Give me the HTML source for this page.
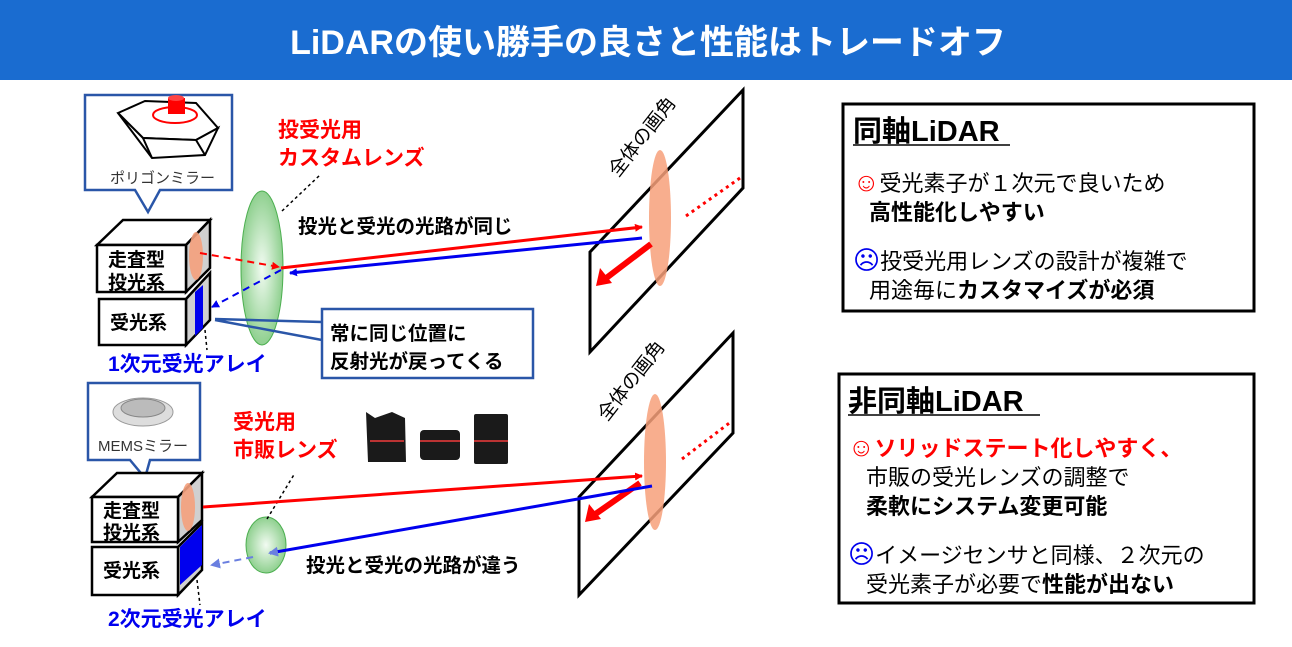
<!DOCTYPE html>
<html><head><meta charset="utf-8"><style>
body{margin:0;width:1292px;height:642px;overflow:hidden;background:#fff;font-family:"Liberation Sans","Noto Sans CJK JP",sans-serif}
</style></head><body>
<svg width="1292" height="642" xmlns="http://www.w3.org/2000/svg" font-family="Liberation Sans, Noto Sans CJK JP, sans-serif">
<defs>
<radialGradient id="g" cx="50%" cy="50%" r="50%"><stop offset="0" stop-color="#f2fbf2"/><stop offset="1" stop-color="#8fd08f"/></radialGradient>
<marker id="ar" markerWidth="8" markerHeight="8" refX="7" refY="4" orient="auto" markerUnits="userSpaceOnUse"><path d="M0,0 L8,4 L0,8z" fill="red"/></marker>
<marker id="ab" markerWidth="8" markerHeight="8" refX="7" refY="4" orient="auto" markerUnits="userSpaceOnUse"><path d="M0,0 L8,4 L0,8z" fill="#0000ee"/></marker>
<marker id="abl" markerWidth="10" markerHeight="10" refX="8" refY="5" orient="auto" markerUnits="userSpaceOnUse"><path d="M0,0 L10,5 L0,10z" fill="#6a7fe0"/></marker>
</defs>
<rect x="0" y="0" width="1292" height="80" fill="#1a6cd0"/>
<text x="648" y="54" text-anchor="middle" fill="#fff" font-size="34" font-weight="bold">LiDARの使い勝手の良さと性能はトレードオフ</text>

<!-- Right boxes -->
<rect x="843" y="104" width="411" height="207" fill="#fff" stroke="#000" stroke-width="3"/>
<text x="853" y="141" font-size="29" font-weight="bold">同軸LiDAR</text>
<line x1="853" y1="145" x2="1010" y2="145" stroke="#000" stroke-width="1.5"/>
<text x="853" y="191" font-size="22"><tspan fill="red" font-size="26">☺</tspan>受光素子が１次元で良いため</text>
<text x="869" y="220" font-size="22" font-weight="bold">高性能化しやすい</text>
<text x="853" y="269" font-size="22"><tspan fill="#0000ee" font-size="26">☹</tspan>投受光用レンズの設計が複雑で</text>
<text x="869" y="298" font-size="22">用途毎に<tspan font-weight="bold">カスタマイズが必須</tspan></text>

<rect x="839" y="374" width="415" height="229" fill="#fff" stroke="#000" stroke-width="3"/>
<text x="848" y="411" font-size="29" font-weight="bold">非同軸LiDAR</text>
<line x1="848" y1="415" x2="1040" y2="415" stroke="#000" stroke-width="1.5"/>
<text x="848" y="456" font-size="22" fill="red" font-weight="bold"><tspan font-weight="normal" font-size="26">☺</tspan>ソリッドステート化しやすく、</text>
<text x="866" y="485" font-size="22">市販の受光レンズの調整で</text>
<text x="866" y="514" font-size="22" font-weight="bold">柔軟にシステム変更可能</text>
<text x="848" y="563" font-size="22"><tspan fill="#0000ee" font-size="26">☹</tspan>イメージセンサと同様、２次元の</text>
<text x="866" y="592" font-size="22">受光素子が必要で<tspan font-weight="bold">性能が出ない</tspan></text>

<!-- Screens -->
<polygon points="590,252 743,90 743,188 590,352" fill="#fff" stroke="#000" stroke-width="3"/>
<ellipse cx="660" cy="218" rx="11" ry="68" fill="#f7a07a" opacity="0.85"/>
<line x1="686" y1="216" x2="740" y2="178" stroke="red" stroke-width="3" stroke-dasharray="3,4"/>
<line x1="651" y1="244" x2="605" y2="279" stroke="red" stroke-width="6"/>
<path d="M596,286 L600,268 L612,283z" fill="red"/>
<text transform="translate(618,178) rotate(-52)" font-size="19">全体の画角</text>

<polygon points="579,497 733,333 733,433 579,595" fill="#fff" stroke="#000" stroke-width="3"/>
<ellipse cx="655" cy="462" rx="11" ry="68" fill="#f7a07a" opacity="0.85"/>
<line x1="682" y1="459" x2="732" y2="421" stroke="red" stroke-width="3" stroke-dasharray="3,4"/>
<line x1="640" y1="483" x2="594" y2="515" stroke="red" stroke-width="6"/>
<path d="M585,522 L589,504 L601,519z" fill="red"/>
<text transform="translate(607,422) rotate(-52)" font-size="19">全体の画角</text>

<!-- Top left -->
<path d="M85,95 H232 V190 H160 L148,212 L135,190 H85Z" fill="#fff" stroke="#2a56a8" stroke-width="2.5"/>
<polygon points="118,113 145,101 196,103 218,128 196,140 143,138" fill="#fff" stroke="#000" stroke-width="2"/>
<polygon points="118,113 143,138 196,140 218,128 205,155 152,158" fill="#fff" stroke="#000" stroke-width="2"/>
<line x1="143" y1="138" x2="152" y2="158" stroke="#000" stroke-width="2"/>
<line x1="196" y1="140" x2="205" y2="155" stroke="#000" stroke-width="2"/>
<ellipse cx="175" cy="115" rx="22" ry="8" fill="none" stroke="red" stroke-width="2"/>
<rect x="168" y="98" width="17" height="16" fill="red"/>
<ellipse cx="176" cy="98" rx="8" ry="3" fill="#f44"/>
<text x="110" y="183" font-size="15" fill="#333">ポリゴンミラー</text>

<polygon points="97,245 123,220 210,220 186,245" fill="#fff" stroke="#000" stroke-width="2.5"/>
<polygon points="186,245 210,220 210,268 186,292" fill="#d0d0d0" stroke="#000" stroke-width="2.5"/>
<rect x="97" y="245" width="89" height="47" fill="#fff" stroke="#000" stroke-width="2.5"/>
<ellipse cx="196" cy="256" rx="7" ry="24" fill="#f4a07c" opacity="0.9"/>
<text x="108" y="266" font-size="19" font-weight="bold">走査型</text>
<text x="108" y="289" font-size="19" font-weight="bold">投光系</text>
<polygon points="186,299 210,273 210,320 186,345" fill="#d0d0d0" stroke="#000" stroke-width="2.5"/>
<rect x="99" y="299" width="87" height="46" fill="#fff" stroke="#000" stroke-width="2.5"/>
<polygon points="195,292 203,285 203,328 195,336" fill="#0000ee"/>
<text x="110" y="329" font-size="19" font-weight="bold">受光系</text>
<line x1="205" y1="330" x2="207" y2="350" stroke="#000" stroke-width="1.5" stroke-dasharray="3,3"/>
<text x="108" y="371" font-size="21" font-weight="bold" fill="#0000ee">1次元受光アレイ</text>

<ellipse cx="262" cy="268" rx="21" ry="77" fill="url(#g)" stroke="#4caf50" stroke-width="1"/>
<line x1="282" y1="211" x2="320" y2="175" stroke="#000" stroke-width="1.5" stroke-dasharray="3,3"/>
<text x="278" y="137" font-size="21" font-weight="bold" fill="red">投受光用</text>
<text x="278" y="165" font-size="21" font-weight="bold" fill="red">カスタムレンズ</text>
<text x="298" y="233" font-size="19.5" font-weight="bold">投光と受光の光路が同じ</text>
<line x1="200" y1="253" x2="279" y2="267" stroke="red" stroke-width="2" stroke-dasharray="7,5" marker-end="url(#ar)"/>
<line x1="281" y1="268" x2="642" y2="227" stroke="red" stroke-width="3" marker-end="url(#ar)"/>
<line x1="642" y1="238" x2="290" y2="273" stroke="#0000ee" stroke-width="3" marker-end="url(#ab)"/>
<line x1="281" y1="270" x2="212" y2="307" stroke="#0000ee" stroke-width="2" stroke-dasharray="7,5" marker-end="url(#ab)"/>
<path d="M215,319 L322,322 M215,320 L322,340" stroke="#2a56a8" stroke-width="2.5" fill="none"/>
<rect x="322" y="309" width="211" height="69" fill="#fff" stroke="#2a56a8" stroke-width="2.5"/>
<text x="330" y="340" font-size="19.5" font-weight="bold">常に同じ位置に</text>
<text x="330" y="368" font-size="19.5" font-weight="bold">反射光が戻ってくる</text>

<!-- Bottom left -->
<path d="M88,383 H200 V460 H150 L145,478 L130,460 H88Z" fill="#fff" stroke="#2a56a8" stroke-width="2.5"/>
<ellipse cx="143" cy="412" rx="30" ry="14" fill="#ddd" stroke="#999"/>
<ellipse cx="143" cy="408" rx="22" ry="9" fill="#bbb" stroke="#888"/>
<text x="98" y="451" font-size="15" fill="#333">MEMSミラー</text>
<polygon points="92,497 117,473 202,473 178,497" fill="#fff" stroke="#000" stroke-width="2.5"/>
<polygon points="178,497 202,473 202,520 178,542" fill="#d0d0d0" stroke="#000" stroke-width="2.5"/>
<rect x="92" y="497" width="86" height="45" fill="#fff" stroke="#000" stroke-width="2.5"/>
<ellipse cx="188" cy="507" rx="7" ry="24" fill="#f4a07c" opacity="0.9"/>
<text x="103" y="517" font-size="19" font-weight="bold">走査型</text>
<text x="103" y="539" font-size="19" font-weight="bold">投光系</text>
<polygon points="178,547 202,523 202,570 178,595" fill="#d0d0d0" stroke="#000" stroke-width="2.5"/>
<polygon points="180,547 202,525 202,565 180,585" fill="#0000ee"/>
<rect x="92" y="547" width="86" height="48" fill="#fff" stroke="#000" stroke-width="2.5"/>
<text x="103" y="577" font-size="19" font-weight="bold">受光系</text>
<line x1="197" y1="580" x2="200" y2="605" stroke="#000" stroke-width="1.5" stroke-dasharray="3,3"/>
<text x="108" y="626" font-size="21" font-weight="bold" fill="#0000ee">2次元受光アレイ</text>

<ellipse cx="266" cy="545" rx="20" ry="28" fill="url(#g)" stroke="#4caf50" stroke-width="1"/>
<line x1="267" y1="519" x2="295" y2="473" stroke="#000" stroke-width="1.5" stroke-dasharray="3,3"/>
<text x="233" y="429" font-size="21" font-weight="bold" fill="red">受光用</text>
<text x="233" y="457" font-size="21" font-weight="bold" fill="red">市販レンズ</text>
<line x1="203" y1="507" x2="642" y2="476" stroke="red" stroke-width="3" marker-end="url(#ar)"/>
<line x1="652" y1="486" x2="270" y2="553" stroke="#0000ee" stroke-width="3" marker-end="url(#abl)"/>
<line x1="253" y1="557" x2="212" y2="565" stroke="#6a7fe0" stroke-width="2" stroke-dasharray="7,5" marker-end="url(#abl)"/>
<text x="306" y="572" font-size="19.5" font-weight="bold">投光と受光の光路が違う</text>

<!-- camera lenses -->
<g>
<path d="M366,412 L375,418 L392,412 L405,418 L406,462 L368,462Z" fill="#1a1a1a"/>
<rect x="370" y="440" width="34" height="2" fill="#b33"/>
<rect x="420" y="430" width="40" height="30" rx="4" fill="#1a1a1a"/>
<rect x="420" y="440" width="40" height="2" fill="#b33"/>
<rect x="474" y="414" width="34" height="50" rx="2" fill="#1a1a1a"/>
<rect x="474" y="440" width="34" height="2" fill="#b33"/>
</g>
</svg>
</body></html>
